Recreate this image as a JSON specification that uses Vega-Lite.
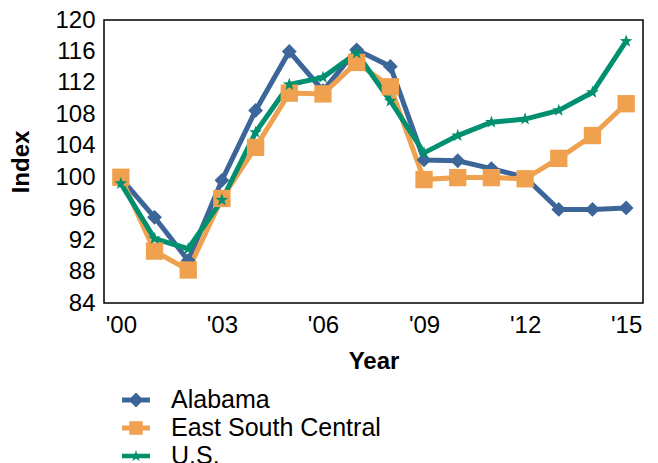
{
  "$schema": "https://vega.github.io/schema/vega-lite/v6.json",
  "autosize": {"type": "none"},
  "padding": {"left": 104, "top": 20, "right": 15, "bottom": 160},
  "width": 539,
  "height": 283,
  "config": {
    "font": "Liberation Sans",
    "view": {"stroke": "#000000", "strokeWidth": 1.5},
    "axis": {"grid": false, "domain": false, "ticks": false, "labelColor": "#000000", "titleColor": "#000000", "labelFont": "Liberation Sans", "titleFont": "Liberation Sans"},
    "legend": {"labelFont": "Liberation Sans"}
  },
  "data": {
    "values": [
      {"year": 2000, "series": "Alabama", "value": 99.9},
      {"year": 2001, "series": "Alabama", "value": 94.9},
      {"year": 2002, "series": "Alabama", "value": 89.4},
      {"year": 2003, "series": "Alabama", "value": 99.6},
      {"year": 2004, "series": "Alabama", "value": 108.5},
      {"year": 2005, "series": "Alabama", "value": 116.0},
      {"year": 2006, "series": "Alabama", "value": 111.0},
      {"year": 2007, "series": "Alabama", "value": 116.2},
      {"year": 2008, "series": "Alabama", "value": 114.1},
      {"year": 2009, "series": "Alabama", "value": 102.2},
      {"year": 2010, "series": "Alabama", "value": 102.1},
      {"year": 2011, "series": "Alabama", "value": 101.1},
      {"year": 2012, "series": "Alabama", "value": 100.0},
      {"year": 2013, "series": "Alabama", "value": 95.9},
      {"year": 2014, "series": "Alabama", "value": 95.9},
      {"year": 2015, "series": "Alabama", "value": 96.1},
      {"year": 2000, "series": "East South Central", "value": 100.0},
      {"year": 2001, "series": "East South Central", "value": 90.6},
      {"year": 2002, "series": "East South Central", "value": 88.2},
      {"year": 2003, "series": "East South Central", "value": 97.3},
      {"year": 2004, "series": "East South Central", "value": 103.8},
      {"year": 2005, "series": "East South Central", "value": 110.7},
      {"year": 2006, "series": "East South Central", "value": 110.6},
      {"year": 2007, "series": "East South Central", "value": 114.6},
      {"year": 2008, "series": "East South Central", "value": 111.5},
      {"year": 2009, "series": "East South Central", "value": 99.7},
      {"year": 2010, "series": "East South Central", "value": 99.95},
      {"year": 2011, "series": "East South Central", "value": 99.95},
      {"year": 2012, "series": "East South Central", "value": 99.8},
      {"year": 2013, "series": "East South Central", "value": 102.4},
      {"year": 2014, "series": "East South Central", "value": 105.3},
      {"year": 2015, "series": "East South Central", "value": 109.35},
      {"year": 2000, "series": "U.S.", "value": 99.2},
      {"year": 2001, "series": "U.S.", "value": 92.2},
      {"year": 2002, "series": "U.S.", "value": 90.9},
      {"year": 2003, "series": "U.S.", "value": 97.1},
      {"year": 2004, "series": "U.S.", "value": 105.7},
      {"year": 2005, "series": "U.S.", "value": 111.8},
      {"year": 2006, "series": "U.S.", "value": 112.7},
      {"year": 2007, "series": "U.S.", "value": 115.8},
      {"year": 2008, "series": "U.S.", "value": 109.7},
      {"year": 2009, "series": "U.S.", "value": 103.1},
      {"year": 2010, "series": "U.S.", "value": 105.3},
      {"year": 2011, "series": "U.S.", "value": 107.0},
      {"year": 2012, "series": "U.S.", "value": 107.4},
      {"year": 2013, "series": "U.S.", "value": 108.5},
      {"year": 2014, "series": "U.S.", "value": 110.8},
      {"year": 2015, "series": "U.S.", "value": 117.3}
    ]
  },
  "encoding": {
    "x": {
      "field": "year", "type": "quantitative",
      "scale": {"domain": [1999.5, 2015.5], "nice": false, "zero": false},
      "axis": {"values": [2000, 2003, 2006, 2009, 2012, 2015], "labelExpr": "\"'\" + substring(toString(datum.value), 2, 4)", "labelFontSize": 24, "labelPadding": 10, "title": "Year", "titleFontSize": 24, "titleFontWeight": "bold", "titlePadding": 12}
    },
    "y": {
      "field": "value", "type": "quantitative",
      "scale": {"domain": [84, 120], "nice": false, "zero": false},
      "axis": {"values": [84, 88, 92, 96, 100, 104, 108, 112, 116, 120], "labelFontSize": 24, "labelPadding": 9, "title": "Index", "titleFontSize": 24, "titleFontWeight": "bold", "titlePadding": 21}
    }
  },
  "layer": [
    {
      "mark": {"type": "line", "strokeWidth": 5},
      "encoding": {"color": {"field": "series", "type": "nominal", "legend": null, "scale": {"domain": ["Alabama", "East South Central", "U.S."], "range": ["#3C6699", "#EFA14F", "#00906F"]}}}
    },
    {
      "transform": [{"filter": "datum.series === 'Alabama'"}],
      "mark": {"type": "point", "filled": true, "opacity": 1, "shape": "diamond", "size": 220},
      "encoding": {"color": {"field": "series", "type": "nominal", "legend": null}}
    },
    {
      "transform": [{"filter": "datum.series === 'East South Central'"}],
      "mark": {"type": "point", "filled": true, "opacity": 1, "shape": "square", "size": 300},
      "encoding": {"color": {"field": "series", "type": "nominal", "legend": null}}
    },
    {
      "transform": [{"filter": "datum.series === 'U.S.'"}],
      "mark": {"type": "point", "filled": true, "opacity": 1, "shape": "M0,-1L0.235,-0.324L0.951,-0.309L0.38,0.124L0.588,0.809L0,0.4L-0.588,0.809L-0.38,0.124L-0.951,-0.309L-0.235,-0.324Z", "size": 180},
      "encoding": {"color": {"field": "series", "type": "nominal", "legend": null}}
    },
    {
      "mark": {"type": "point", "filled": true, "opacity": 0},
      "encoding": {
        "shape": {
          "field": "series", "type": "nominal",
          "scale": {"domain": ["Alabama", "East South Central", "U.S."], "range": [
            "M-1,-0.18H1V0.18H-1Z M0,-0.54L0.54,0L0,0.54L-0.54,0Z",
            "M-1,-0.18H1V0.18H-1Z M-0.48,-0.48H0.48V0.48H-0.48Z",
            "M-1,-0.16H1V0.16H-1Z M0,-0.42L0.1,-0.13L0.42,-0.13L0.16,0.06L0.26,0.38L0,0.18L-0.26,0.38L-0.16,0.06L-0.42,-0.13L-0.1,-0.13Z"
          ]},
          "legend": {
            "title": null, "orient": "none", "legendX": 17, "legendY": 365, "direction": "vertical",
            "symbolSize": 784, "symbolOpacity": 1, "labelFontSize": 25, "labelLimit": 0, "labelOffset": 20, "rowPadding": 0, "labelColor": "#000000"
          }
        },
        "fill": {
          "field": "series", "type": "nominal",
          "scale": {"domain": ["Alabama", "East South Central", "U.S."], "range": ["#3C6699", "#EFA14F", "#00906F"]},
          "legend": {
            "title": null, "orient": "none", "legendX": 17, "legendY": 365, "direction": "vertical",
            "symbolSize": 784, "symbolOpacity": 1, "labelFontSize": 25, "labelLimit": 0, "labelOffset": 20, "rowPadding": 0, "labelColor": "#000000"
          }
        }
      }
    }
  ],
  "resolve": {"scale": {"shape": "independent", "fill": "independent"}}
}
